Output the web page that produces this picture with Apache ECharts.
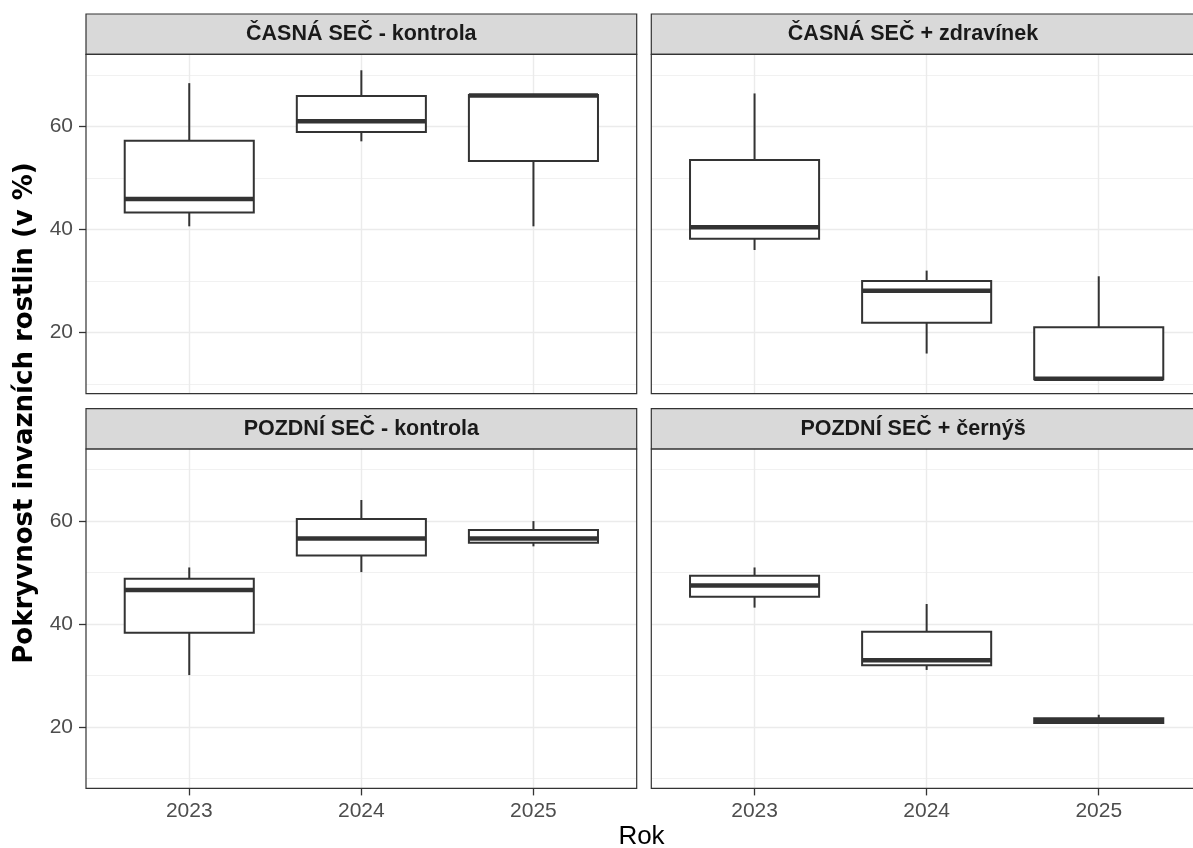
<!DOCTYPE html>
<html>
<head>
<meta charset="utf-8">
<title>Pokryvnost invazních rostlin</title>
<script src="https://cdn.jsdelivr.net/npm/echarts@6/dist/echarts.min.js"></script>
<style>
  html, body { margin: 0; padding: 0; background: #ffffff; }
  #chart { width: 1193px; height: 848px; }
</style>
</head>
<body>
<div id="chart"></div>
<script>
// Years on the x axis (positions 1, 2, 3)
const years = ['2023', '2024', '2025'];

// Facet titles, in reading order
const panelTitles = [
  'ČASNÁ SEČ - kontrola',
  'ČASNÁ SEČ + zdravínek',
  'POZDNÍ SEČ - kontrola',
  'POZDNÍ SEČ + černýš'
];

// Box statistics per year: [min, Q1, median, Q3, max]
const casnaKontrola = [
  [40.6, 43.3, 45.9, 57.2, 68.4],
  [57.1, 58.9, 61.0, 65.9, 70.9],
  [40.6, 53.3, 66.0, 66.1, 66.1]
];
const casnaZdravinek = [
  [36.0, 38.2, 40.4, 53.5, 66.4],
  [15.9, 21.9, 28.1, 30.0, 32.0],
  [10.9, 10.9, 11.0, 21.0, 30.9]
];
const pozdniKontrola = [
  [30.1, 38.3, 46.6, 48.8, 51.0],
  [50.1, 53.3, 56.6, 60.4, 64.1],
  [55.1, 55.8, 56.6, 58.25, 60.0]
];
const pozdniCernys = [
  [43.2, 45.3, 47.5, 49.4, 51.0],
  [31.1, 32.0, 33.0, 38.5, 43.9],
  [20.8, 20.8, 21.2, 21.7, 22.4]
];

// Y axis breaks
const yMajorTicks = [20, 40, 60];
const yMinorTicks = [10, 30, 50, 70];
const yRange = [8.1, 74.0];
const xRange = [0.4, 3.6];

const panelData = [casnaKontrola, casnaZdravinek, pozdniKontrola, pozdniCernys];

// ---- layout (pixels) ----
const FONT = '"Liberation Sans", Arial, Helvetica, sans-serif';
const TITLE_FONT = '"DejaVu Sans", Verdana, sans-serif';
const DARK = '#333333';
const GRID_COLOR = '#EBEBEB';
const panelW = 550.7;
const colLeft = [86, 651.3];
const rowTop = [54.3, 449];
const panelH = 339.4;
const stripH = 40.3;
const stripTextX = [361.3, 913];

const panels = [0, 1, 2, 3].map(i => ({
  left: colLeft[i % 2],
  top: rowTop[Math.floor(i / 2)],
  isLeft: i % 2 === 0,
  isBottom: i >= 2
}));

const chart = echarts.init(document.getElementById('chart'), null, { renderer: 'canvas' });

const grid = panels.map(p => ({
  left: p.left, top: p.top, width: panelW, height: panelH,
  show: true, backgroundColor: '#ffffff', borderWidth: 0,
  containLabel: false,
  outerBoundsMode: 'none'
}));

const xAxis = panels.map((p, i) => ({
  type: 'value',
  gridIndex: i,
  min: xRange[0],
  max: xRange[1],
  axisLine: { show: false },
  axisTick: {
    show: p.isBottom,
    length: 7,
    customValues: [1, 2, 3],
    lineStyle: { color: DARK, width: 1.3 }
  },
  axisLabel: {
    show: p.isBottom,
    customValues: [1, 2, 3],
    formatter: v => years[Math.round(v) - 1],
    fontFamily: FONT,
    fontSize: 21,
    color: '#4D4D4D',
    margin: 12
  },
  splitLine: { show: true, lineStyle: { color: GRID_COLOR, width: 1.4 } }
}));

const yAxis = [];
panels.forEach((p, i) => {
  // major breaks with labels
  yAxis.push({
    type: 'value',
    gridIndex: i,
    min: yRange[0],
    max: yRange[1],
    position: 'left',
    axisLine: { show: false },
    axisTick: {
      show: p.isLeft,
      length: 7,
      customValues: yMajorTicks,
      lineStyle: { color: DARK, width: 1.3 }
    },
    axisLabel: {
      show: p.isLeft,
      customValues: yMajorTicks,
      fontFamily: FONT,
      fontSize: 21,
      color: '#4D4D4D',
      margin: 13
    },
    splitLine: { show: true, lineStyle: { color: GRID_COLOR, width: 1.4 } }
  });
  // minor breaks, grid lines only
  yAxis.push({
    type: 'value',
    gridIndex: i,
    min: yRange[0],
    max: yRange[1],
    position: 'right',
    axisLine: { show: false },
    axisTick: { show: false, customValues: yMinorTicks },
    axisLabel: { show: false, customValues: yMinorTicks },
    splitLine: { show: true, lineStyle: { color: GRID_COLOR, width: 0.7 } }
  });
});

// Box-and-whisker glyph drawn from the axis scales
const HALF_BOX = 0.375;
function renderBox(params, api) {
  const x = api.value(0);
  const vMin = api.value(1), q1 = api.value(2), med = api.value(3), q3 = api.value(4), vMax = api.value(5);
  const pMin = api.coord([x, vMin]);
  const pQ1 = api.coord([x, q1]);
  const pMed = api.coord([x, med]);
  const pQ3 = api.coord([x, q3]);
  const pMax = api.coord([x, vMax]);
  const xl = api.coord([x - HALF_BOX, med])[0];
  const xr = api.coord([x + HALF_BOX, med])[0];
  const lineStyle = { stroke: DARK, lineWidth: 2, fill: null };
  return {
    type: 'group',
    children: [
      { type: 'line', shape: { x1: pQ3[0], y1: pQ3[1], x2: pMax[0], y2: pMax[1] }, style: lineStyle },
      { type: 'line', shape: { x1: pQ1[0], y1: pQ1[1], x2: pMin[0], y2: pMin[1] }, style: lineStyle },
      { type: 'rect', shape: { x: xl, y: pQ3[1], width: xr - xl, height: pQ1[1] - pQ3[1] },
        style: { stroke: DARK, lineWidth: 2, fill: '#ffffff' } },
      { type: 'line', shape: { x1: xl, y1: pMed[1], x2: xr, y2: pMed[1] },
        style: { stroke: DARK, lineWidth: 4.5 } }
    ]
  };
}

const series = panelData.map((stats, i) => ({
  type: 'custom',
  xAxisIndex: i,
  yAxisIndex: 2 * i,
  renderItem: renderBox,
  encode: { x: 0, y: [1, 2, 3, 4, 5] },
  data: stats.map((s, k) => [k + 1].concat(s)),
  clip: false,
  silent: true,
  z: 5
}));

// Strips, panel frames and axis titles
const graphic = [];
panels.forEach((p, i) => {
  graphic.push({
    type: 'rect', z: 100,
    shape: { x: p.left, y: p.top - stripH, width: panelW, height: stripH },
    style: { fill: '#D9D9D9', stroke: DARK, lineWidth: 1.2 }
  });
  graphic.push({
    type: 'text', z: 101,
    x: stripTextX[i % 2], y: p.top - stripH / 2,
    style: {
      text: panelTitles[i], fill: '#1A1A1A', font: 'bold 21.5px ' + FONT,
      textAlign: 'center', textVerticalAlign: 'middle'
    }
  });
  graphic.push({
    type: 'rect', z: 100,
    shape: { x: p.left, y: p.top, width: panelW, height: panelH },
    style: { fill: null, stroke: DARK, lineWidth: 1.2 }
  });
});
graphic.push({
  type: 'text', z: 101, x: 641.5, y: 837,
  style: { text: 'Rok', fill: '#000000', font: '26px ' + FONT, textAlign: 'center', textVerticalAlign: 'middle' }
});
graphic.push({
  type: 'text', z: 101, x: 25, y: 413, rotation: Math.PI / 2,
  style: {
    text: 'Pokryvnost invazních rostlin (v %)', fill: '#000000', font: 'bold 26px ' + TITLE_FONT,
    textAlign: 'center', textVerticalAlign: 'middle'
  }
});

chart.setOption({
  animation: false,
  backgroundColor: '#ffffff',
  grid, xAxis, yAxis, series, graphic
});
</script>
</body>
</html>
